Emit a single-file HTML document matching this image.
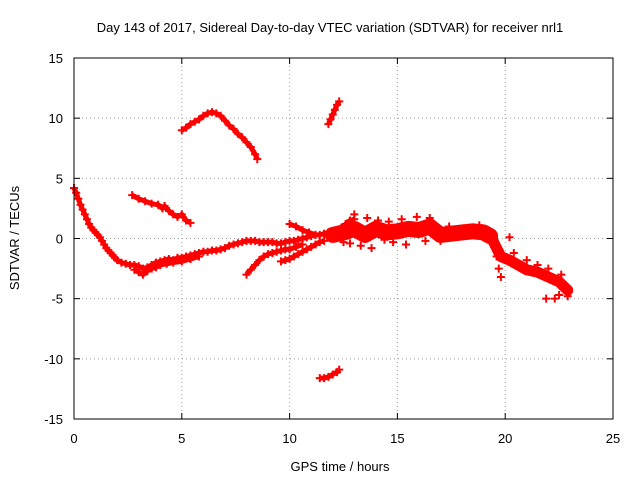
<!DOCTYPE html>
<html><head><meta charset="utf-8"><style>
body{margin:0;background:#fff}
svg{display:block;font-family:"Liberation Sans",sans-serif;font-size:13px}
</style></head><body>
<svg id="chart" width="640" height="480">
<text x="330" y="32" text-anchor="middle">Day 143 of 2017, Sidereal Day-to-day VTEC variation (SDTVAR) for receiver nrl1</text>
<text x="340" y="471" text-anchor="middle">GPS time / hours</text>
<text transform="translate(19,238) rotate(-90)" text-anchor="middle">SDTVAR / TECUs</text>
<g id="grid"></g><g id="ticks"></g><g id="marks"></g>
<rect x="74" y="58" width="539" height="361" fill="none" stroke="#000"/>
</svg>
<script>
const xTicks=[0,5,10,15,20,25];
const yTicks=[-15,-10,-5,0,5,10,15];
const segMain=[[0,4.2],[0.1,3.8],[0.2,3.3],[0.3,2.8],[0.4,2.4],[0.5,2.0],[0.6,1.6],[0.7,1.2],[0.8,0.9],[0.9,0.7],[1.0,0.5],[1.1,0.3],[1.2,0.1],[1.3,-0.2],[1.4,-0.5],[1.5,-0.8],[1.6,-1.0],[1.7,-1.2],[1.8,-1.4],[1.9,-1.6],[2.0,-1.8],[2.2,-2.0],[2.4,-2.1],[2.6,-2.2],[2.8,-2.2],[3.0,-2.3],[3.2,-2.5],[3.4,-2.4],[3.6,-2.2],[3.8,-2.0],[4.0,-1.9],[4.2,-1.8],[4.4,-1.7],[4.6,-1.8],[4.8,-1.6],[5.0,-1.6],[5.2,-1.5],[5.4,-1.4],[5.6,-1.3],[5.8,-1.2],[6.0,-1.1],[6.2,-1.1],[6.4,-1.0],[6.6,-1.0],[6.8,-0.9],[7.0,-0.8],[7.2,-0.6],[7.4,-0.5],[7.6,-0.4],[7.8,-0.3],[8.0,-0.2],[8.2,-0.2],[8.4,-0.2],[8.6,-0.3],[8.8,-0.3],[9.0,-0.3],[9.2,-0.3],[9.4,-0.4],[9.6,-0.4],[9.8,-0.3],[10.0,-0.2],[10.2,-0.2],[10.4,-0.1],[10.6,0],[10.8,0.1],[11.0,0.2],[11.2,0.3],[11.4,0.3],[11.6,0.4],[11.8,0.5],[12.0,0.5],[12.2,0.7],[12.4,0.9],[12.6,1.2],[12.8,1.5],[13.0,1.6]];
const segLow=[[2.8,-2.6],[3.0,-2.8],[3.2,-3.0],[3.4,-2.7],[3.6,-2.5],[3.8,-2.4],[4.0,-2.2],[4.3,-2.1],[4.6,-2.0],[5.0,-1.9],[5.4,-1.7],[5.8,-1.5]];
const segBranchA=[[8.0,-3.0],[8.2,-2.6],[8.4,-2.2],[8.6,-1.8],[8.8,-1.5],[9.0,-1.3],[9.2,-1.2],[9.4,-1.1],[9.6,-1.0],[9.8,-0.9],[10.0,-0.9],[10.3,-0.7],[10.6,-0.5]];
const segBranchB=[[9.6,-1.9],[9.8,-1.8],[10.0,-1.7],[10.2,-1.5],[10.4,-1.3],[10.6,-1.1],[10.8,-0.9],[11.0,-0.7],[11.2,-0.5],[11.4,-0.3],[11.6,-0.2]];
const segBranchC=[[10.0,1.2],[10.3,1.0],[10.6,0.7],[10.9,0.5],[11.2,0.3]];
const segCloud=[[12.0,0.3],[12.5,0.5],[13.0,0.8],[13.5,0.3],[14.0,0.8],[14.5,0.5],[15.0,0.6],[15.5,0.8],[16.0,0.7],[16.5,1.0],[17.0,0.3],[17.5,0.4],[18.0,0.5],[18.5,0.6],[19.0,0.5],[19.3,0.2]];
const segCloud2=[[12.5,-0.3],[12.8,-0.4],[13.0,2.0],[13.3,-0.6],[13.6,1.7],[13.8,-0.8],[14.1,1.5],[14.4,-0.1],[14.6,1.4],[14.8,-0.3],[15.2,1.6],[15.4,-0.5],[15.9,1.8],[16.3,-0.2],[16.5,1.7],[17.0,-0.2],[17.4,1.0],[18.0,0.8],[18.8,1.1]];
const segTail=[[19.3,0.3],[19.6,-0.8],[19.8,-1.5],[20.2,-1.8],[20.6,-2.2],[21.0,-2.6],[21.5,-2.8],[22.0,-3.2],[22.5,-3.6],[22.9,-4.3]];
const segTail2=[[19.5,-0.5],[19.6,-1.5],[19.7,-2.5],[19.8,-3.2],[20.2,0.1],[20.4,-1.2],[21.0,-1.8],[21.5,-2.2],[22.0,-2.5],[22.6,-3.0],[22.9,-4.8],[21.9,-5.0],[22.3,-5.0],[22.5,-4.7]];
const segMid=[[2.7,3.6],[3.0,3.3],[3.3,3.1],[3.6,2.9],[3.9,2.8],[4.1,2.5],[4.2,2.7],[4.4,2.3],[4.6,2.0],[4.8,1.8],[5.0,2.0],[5.2,1.5],[5.4,1.3]];
const segArc=[[5.0,9.0],[5.2,9.2],[5.4,9.5],[5.6,9.7],[5.8,9.9],[6.0,10.2],[6.2,10.4],[6.4,10.5],[6.6,10.4],[6.8,10.2],[7.0,9.8],[7.2,9.4],[7.4,9.1],[7.6,8.7],[7.8,8.4],[8.0,8.0],[8.2,7.6],[8.4,7.0],[8.5,6.6]];
const segHigh=[[11.8,9.5],[11.9,9.9],[12.0,10.3],[12.1,10.7],[12.2,11.1],[12.3,11.4]];
const segNeg=[[11.4,-11.6],[11.6,-11.6],[11.8,-11.5],[12.0,-11.3],[12.2,-11.1],[12.3,-10.9]];
const segments=[segMain,segLow,segBranchA,segBranchB,segBranchC,segCloud,segCloud2,segTail,segTail2,segMid,segArc,segHigh,segNeg];
const contiguous=[segMain,segLow,segBranchA,segBranchB,segBranchC,segMid,segArc,segHigh,segNeg];
const bands=[[segCloud,16],[segTail,11]];

const NS="http://www.w3.org/2000/svg";
const X=v=>74+v*(539/25);
const Y=v=>238.5-v*(361/30);
function mk(t,a,p){const e=document.createElementNS(NS,t);for(const k in a)e.setAttribute(k,a[k]);p.appendChild(e);return e;}
const grid=document.getElementById('grid'),ticks=document.getElementById('ticks'),marks=document.getElementById('marks');
xTicks.forEach(v=>{
  const x=X(v);
  if(v>0&&v<25){const g=mk('line',{x1:x,x2:x,y1:58,y2:419,stroke:'#a0a0a0','stroke-dasharray':'1,3'},grid);
  
  }
  mk('line',{x1:x,x2:x,y1:419,y2:413,stroke:'#000'},ticks);
  mk('line',{x1:x,x2:x,y1:58,y2:64,stroke:'#000'},ticks);
  const t=mk('text',{x:x,y:443,'text-anchor':'middle'},ticks);t.textContent=v;
  
  
});
yTicks.forEach(v=>{
  const y=Y(v);
  if(v>-15&&v<15){const g=mk('line',{x1:74,x2:613,y1:y,y2:y,stroke:'#a0a0a0','stroke-dasharray':'1,3'},grid);
  
  }
  mk('line',{x1:74,x2:80,y1:y,y2:y,stroke:'#000'},ticks);
  mk('line',{x1:613,x2:607,y1:y,y2:y,stroke:'#000'},ticks);
  const t=mk('text',{x:63,y:y+5,'text-anchor':'end'},ticks);t.textContent=v;
  
  
});
contiguous.forEach(s=>{
  const p=mk('polyline',{points:s.map(d=>X(d[0])+','+Y(d[1])).join(' '),fill:'none',stroke:'#f00','stroke-width':5,'stroke-linejoin':'round'},marks);
  
  
});
bands.forEach(b=>{
  const p=mk('polyline',{points:b[0].map(d=>X(d[0])+','+Y(d[1])).join(' '),fill:'none',stroke:'#f00','stroke-width':b[1],'stroke-linejoin':'round','stroke-linecap':'round'},marks);
  
  
});
segments.forEach(s=>s.forEach(d=>{
  const x=X(d[0]),y=Y(d[1]);
  const p=mk('path',{d:`M${x-4},${y}H${x+4}M${x},${y-4}V${y+4}`,stroke:'#f00','stroke-width':2},marks);
  
  
}));
</script>
</body></html>
